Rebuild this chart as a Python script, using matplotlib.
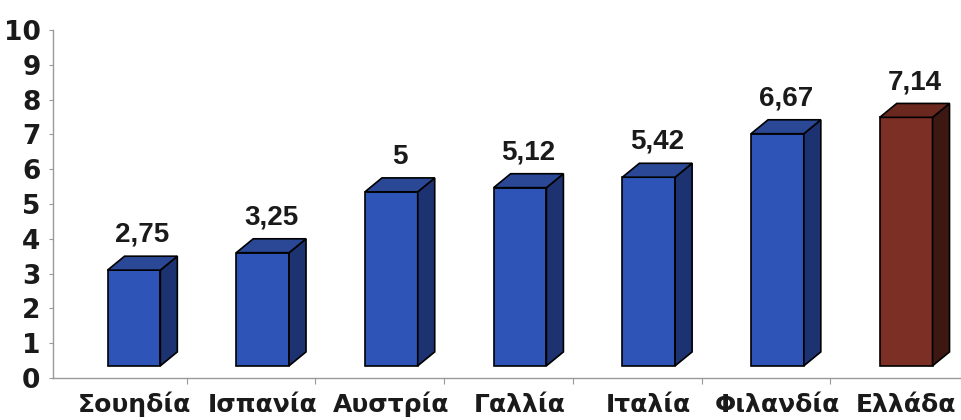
import matplotlib.pyplot as plt
from matplotlib.patches import Polygon

countries = ["Σουηδία", "Ισπανία", "Αυστρία", "Γαλλία", "Ιταλία", "Φιλανδία", "Ελλάδα"]
values = [2.75, 3.25, 5, 5.12, 5.42, 6.67, 7.14]
labels = ["2,75", "3,25", "5", "5,12", "5,42", "6,67", "7,14"]

blue = ("#2d54b6", "#1d3270", "#2a4896")     # front, side, top
brown = ("#7b2f25", "#3d1812", "#6a281f")

plt.rcParams['font.family'] = ['Liberation Sans', 'DejaVu Sans']

fig = plt.figure(figsize=(9.62, 4.2), dpi=100)
ax = fig.add_axes([53 / 962, 0.1, 1 - 53 / 962, 1 - 0.1 - 30 / 420])

width = 0.41   # front face width
dx, dy = 0.132, 0.40   # 3D depth offsets in data units
base = 0.35    # bars sit back on the floor

for i, v in enumerate(values):
    front, side, top = brown if i == len(values) - 1 else blue
    x0 = i - width / 2
    x1 = i + width / 2
    y0 = base
    y1 = base + v
    ax.bar(i, v, width=width, bottom=base, color=front, edgecolor="black",
           linewidth=1.2, zorder=3)
    ax.add_patch(Polygon([(x1, y0), (x1 + dx, y0 + dy), (x1 + dx, y1 + dy), (x1, y1)],
                         closed=True, facecolor=side, edgecolor="black",
                         linewidth=1.2, zorder=3))
    ax.add_patch(Polygon([(x0, y1), (x1, y1), (x1 + dx, y1 + dy), (x0 + dx, y1 + dy)],
                         closed=True, facecolor=top, edgecolor="black",
                         linewidth=1.2, zorder=3))
    ax.annotate(labels[i], (i + dx / 2, y1 + dy), xytext=(0, 6),
                textcoords="offset points", ha="center", va="bottom",
                fontsize=20, fontweight="bold", color="#1a1a1a")
    # category name under the axis, on a common baseline
    ax.annotate(countries[i], (i, 0), xycoords=("data", "axes fraction"),
                xytext=(0, -34), textcoords="offset pixels",
                ha="center", va="baseline", fontsize=18, fontweight="bold",
                family="DejaVu Sans", color="#1a1a1a", annotation_clip=False)

ax.set_xlim(-0.629, 6.434)
ax.set_ylim(0, 10)

ax.set_yticks(range(0, 11))
ax.tick_params(axis="y", length=3, color="#999999", pad=6)
for t in ax.get_yticklabels():
    t.set_fontfamily("DejaVu Sans")
    t.set_fontweight("bold")
    t.set_fontsize(19)
    t.set_color("#1a1a1a")

ax.set_xticks([i + 0.41 for i in range(len(countries) - 1)])
ax.set_xticklabels([])
ax.tick_params(axis="x", length=4, color="#999999")

for s in ["top", "right"]:
    ax.spines[s].set_visible(False)
for s in ["left", "bottom"]:
    ax.spines[s].set_color("#999999")
    ax.spines[s].set_linewidth(1)

fig.savefig("out.png", dpi=100)
